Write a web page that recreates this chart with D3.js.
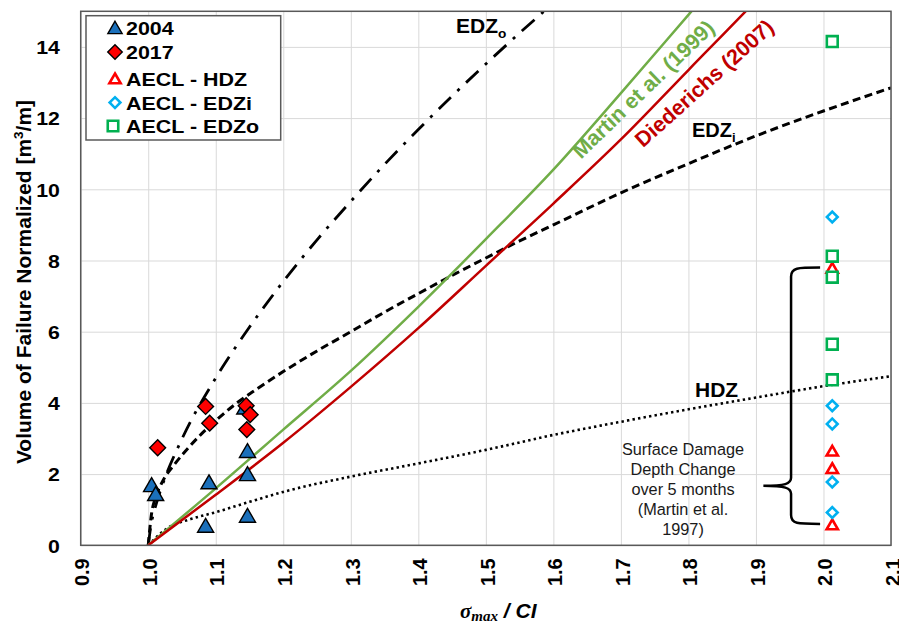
<!DOCTYPE html>
<html lang="en">
<head>
<meta charset="UTF-8">
<title>Volume of failure vs sigma max / CI</title>
<script src="https://d3js.org/d3.v7.min.js"></script>
<style>
  body { margin: 0; background: #fff; }
  text { font-family: "Liberation Sans", Arial, sans-serif; }
</style>
</head>
<body>
<svg id="chart" width="899" height="624"></svg>
<script>
// ---- data ----
const xTicks = [0.9, 1.0, 1.1, 1.2, 1.3, 1.4, 1.5, 1.6, 1.7, 1.8, 1.9, 2.0, 2.1];
const yTicks = [0, 2, 4, 6, 8, 10, 12, 14];

// field measurements [sigma_max/CI, volume]
const field2004 = [[1.005, 1.68], [1.011, 1.43], [1.085, 0.54], [1.090, 1.76],
                   [1.143, 3.86], [1.147, 2.64], [1.147, 1.99], [1.147, 0.82]];
const field2017 = [[1.014, 2.74], [1.085, 3.90], [1.091, 3.43],
                   [1.145, 3.92], [1.151, 3.67], [1.146, 3.25]];

// AECL values at sigma_max/CI ~ 2.0
const aeclX = 2.013;
const aeclHDZ = [7.78, 2.64, 2.15, 0.57];
const aeclEDZi = [9.22, 3.92, 3.41, 1.78, 0.92];
const aeclEDZo = [14.15, 8.12, 7.53, 5.65, 4.65];

// curves
const martinX = [1.0, 1.1, 1.2, 1.3, 1.4, 1.5, 1.6, 1.7, 1.8, 1.85];
const martinY = [0, 1.6, 3.25, 4.9, 6.7, 8.6, 10.55, 12.7, 14.9, 16.0];
const diedX = [1.0, 1.1, 1.2, 1.3, 1.4, 1.5, 1.6, 1.7, 1.8, 1.9, 1.95];
const diedY = [0, 1.42, 2.88, 4.45, 6.1, 7.85, 9.6, 11.4, 13.35, 15.3, 16.3];
const edzoX = [1.0, 1.005, 1.01, 1.02, 1.05, 1.1, 1.15, 1.2, 1.25, 1.3, 1.35, 1.4, 1.45, 1.5, 1.55, 1.6];
const edzoY = [0, 0.66, 1.04, 1.64, 2.99, 4.70, 6.13, 7.41, 8.58, 9.66, 10.70, 11.68, 12.62, 13.52, 14.39, 15.23];
const edziX = [1.0, 1.005, 1.01, 1.02, 1.04, 1.06, 1.08, 1.1, 1.13, 1.16, 1.2, 1.25, 1.3, 1.35, 1.4, 1.45, 1.5, 1.55, 1.6, 1.7, 1.8, 1.9, 2.0, 2.1];
const edziY = [0, 0.9, 1.3, 1.75, 2.3, 2.75, 3.15, 3.5, 3.98, 4.38, 4.88, 5.46, 6.0, 6.55, 7.07, 7.58, 8.07, 8.55, 9.0, 9.9, 10.72, 11.5, 12.2, 12.85];
const hdzX = [1.0, 1.03, 1.06, 1.1, 1.15, 1.2, 1.3, 1.4, 1.5, 1.6, 1.7, 1.8, 1.9, 2.0, 2.1];
const hdzY = [0, 0.5, 0.72, 0.93, 1.22, 1.5, 1.93, 2.3, 2.68, 3.1, 3.47, 3.82, 4.15, 4.47, 4.75];

const legendLabels = ["2004", "2017", "AECL - HDZ", "AECL - EDZi", "AECL - EDZo"];
const noteLines = ["Surface Damage", "Depth Change", "over 5 months", "(Martin et al.", "1997)"];

// ---- chart ----
const svg = d3.select("#chart");
const pLeft = 80.7, pRight = 891, pTop = 11.3, pBottom = 545.3;
const x = d3.scaleLinear().domain([0.9, 2.1]).range([pLeft, pRight]);
const y = d3.scaleLinear().domain([0, 15]).range([pBottom, pTop]);

const blue = "#1b70bb", red = "#ff0000", cyan = "#00b0f0", green = "#00b050";
const martinCol = "#70ad47", diedCol = "#c00000";

svg.append("rect").attr("width", 899).attr("height", 624).attr("fill", "#fff");

// grid
svg.append("g")
  .attr("transform", `translate(0,${pBottom})`)
  .call(d3.axisBottom(x).tickValues(xTicks).tickSize(-(pBottom - pTop)).tickFormat(""))
  .call(g => g.select(".domain").remove())
  .selectAll("line").attr("stroke", "#d9d9d9").attr("stroke-width", 1);
svg.append("g")
  .attr("transform", `translate(${pLeft},0)`)
  .call(d3.axisLeft(y).tickValues(yTicks).tickSize(-(pRight - pLeft)).tickFormat(""))
  .call(g => g.select(".domain").remove())
  .selectAll("line").attr("stroke", "#d9d9d9").attr("stroke-width", 1);

// tick labels
const yAx = svg.append("g")
  .attr("transform", `translate(${pLeft},0)`)
  .call(d3.axisLeft(y).tickValues(yTicks).tickSize(0).tickPadding(0).tickFormat(d3.format("d")));
yAx.select(".domain").remove();
yAx.selectAll("text")
  .attr("x", -18.6).attr("dy", "0.36em")
  .attr("transform", "scale(1.12,1)")
  .attr("font-size", 19).attr("font-weight", "bold").attr("fill", "#000")
  .style("font-family", "'Liberation Sans', Arial, sans-serif");

const xAx = svg.append("g")
  .attr("transform", `translate(0,${pBottom})`)
  .call(d3.axisBottom(x).tickValues(xTicks).tickSize(0).tickFormat(d3.format(".1f")));
xAx.select(".domain").remove();
xAx.selectAll("text")
  .attr("x", 0).attr("y", 0).attr("dy", "0.36em")
  .attr("transform", "translate(1,13) rotate(-90)")
  .attr("text-anchor", "end")
  .attr("font-size", 20).attr("font-weight", "bold").attr("fill", "#000")
  .style("font-family", "'Liberation Sans', Arial, sans-serif");

// curves
svg.append("clipPath").attr("id", "plotclip")
  .append("rect").attr("x", pLeft).attr("y", pTop).attr("width", pRight - pLeft).attr("height", pBottom - pTop);
const curves = svg.append("g").attr("clip-path", "url(#plotclip)");
const line = d3.line().x(d => x(d[0])).y(d => y(d[1])).curve(d3.curveMonotoneX);
function addCurve(xs, ys, color, width, dash) {
  curves.append("path")
    .datum(xs.map((v, i) => [v, ys[i]]))
    .attr("d", line)
    .attr("fill", "none")
    .attr("stroke", color)
    .attr("stroke-width", width)
    .attr("stroke-dasharray", dash);
}
addCurve(hdzX, hdzY, "#000", 2.6, "2.4,3.2");
addCurve(edziX, edziY, "#000", 3, "8,4.5");
addCurve(edzoX, edzoY, "#000", 2.8, "17,9,3,9");
addCurve(martinX, martinY, martinCol, 2.5, null);
addCurve(diedX, diedY, diedCol, 2.5, null);

// plot border
svg.append("rect")
  .attr("x", pLeft).attr("y", pTop).attr("width", pRight - pLeft).attr("height", pBottom - pTop)
  .attr("fill", "none").attr("stroke", "#595959").attr("stroke-width", 1.5);

// brace annotation
const bx = x(1.952), be = x(1.995), bt = x(1.911);
const yTop = y(7.8), yBot = y(0.6), yTip = y(1.67);
svg.append("path")
  .attr("d", `M${be},${yTop} C${bx + 6},${yTop} ${bx},${yTop} ${bx},${yTop + 9}
              L${bx},${yTip - 8} C${bx},${yTip - 2} ${bx - 6},${yTip} ${bt},${yTip}
              C${bx - 6},${yTip} ${bx},${yTip + 2} ${bx},${yTip + 8}
              L${bx},${yBot - 9} C${bx},${yBot} ${bx + 6},${yBot} ${be},${yBot}`)
  .attr("fill", "none").attr("stroke", "#000").attr("stroke-width", 2.5);

svg.append("g").selectAll("text").data(noteLines).join("text")
  .attr("x", 683).attr("y", (d, i) => 455 + i * 20)
  .attr("text-anchor", "middle").attr("font-size", 16.3).attr("fill", "#1a1a1a")
  .text(d => d);

// markers
const tri = d3.symbol(d3.symbolTriangle);
const sq = d3.symbol(d3.symbolSquare);
const marks = svg.append("g");
marks.selectAll(".m2004").data(field2004).join("path")
  .attr("d", tri.size(112)())
  .attr("transform", d => `translate(${x(d[0])},${y(d[1]) + 1.5})`)
  .attr("fill", blue).attr("stroke", "#000").attr("stroke-width", 1.4);
marks.selectAll(".m2017").data(field2017).join("path")
  .attr("d", sq.size(125)())
  .attr("transform", d => `translate(${x(d[0])},${y(d[1])}) rotate(45)`)
  .attr("fill", red).attr("stroke", "#000").attr("stroke-width", 1.4);
marks.selectAll(".hdz").data(aeclHDZ).join("path")
  .attr("d", tri.size(55)())
  .attr("transform", d => `translate(${x(aeclX)},${y(d) + 1})`)
  .attr("fill", "#fff").attr("stroke", red).attr("stroke-width", 2.6);
marks.selectAll(".edzi").data(aeclEDZi).join("path")
  .attr("d", sq.size(58)())
  .attr("transform", d => `translate(${x(aeclX)},${y(d)}) rotate(45)`)
  .attr("fill", "#fff").attr("stroke", cyan).attr("stroke-width", 2.6);
marks.selectAll(".edzo").data(aeclEDZo).join("path")
  .attr("d", sq.size(118)())
  .attr("transform", d => `translate(${x(aeclX)},${y(d)})`)
  .attr("fill", "#fff").attr("stroke", green).attr("stroke-width", 2.6);

// curve labels
function zoneLabel(px, py, main, sub, size) {
  const t = svg.append("text").attr("x", px).attr("y", py)
    .attr("font-size", size).attr("font-weight", "bold").attr("fill", "#000");
  t.append("tspan").text(main);
  if (sub) t.append("tspan").attr("dy", 5).attr("font-size", size * 0.65).text(sub);
}
zoneLabel(456, 33.3, "EDZ", "o", 21);
zoneLabel(692, 137.3, "EDZ", "i", 20);
zoneLabel(695, 396.7, "HDZ", null, 21);

svg.append("text")
  .attr("transform", "translate(643,89) rotate(-44)")
  .attr("text-anchor", "middle").attr("dy", "0.36em")
  .attr("font-size", 21.5).attr("font-weight", "bold").attr("fill", martinCol)
  .text("Martin et al. (1999)");
svg.append("text")
  .attr("transform", "translate(704,83) rotate(-42)")
  .attr("text-anchor", "middle").attr("dy", "0.36em")
  .attr("font-size", 21.5).attr("font-weight", "bold").attr("fill", diedCol)
  .text("Diederichs (2007)");

// axis titles
const yTitle = svg.append("text")
  .attr("transform", "translate(31,282) rotate(-90)")
  .attr("text-anchor", "middle")
  .attr("font-size", 21).attr("font-weight", "bold").attr("fill", "#000");
yTitle.append("tspan").text("Volume of Failure Normalized [m");
yTitle.append("tspan").attr("font-size", 13.5).attr("dy", -8).text("3");
yTitle.append("tspan").attr("dy", 8).text("/m]");

const xTitle = svg.append("text")
  .attr("x", 460).attr("y", 617.5)
  .attr("font-size", 21).attr("font-weight", "bold").attr("font-style", "italic").attr("fill", "#000");
xTitle.append("tspan").style("font-family", "'Liberation Serif', 'Times New Roman', serif").text("σ");
xTitle.append("tspan").style("font-family", "'Liberation Serif', 'Times New Roman', serif")
  .attr("font-size", 15).attr("dy", 3.5).text("max");
xTitle.append("tspan").attr("dy", -3.5).text(" / CI");

// legend
const lg = svg.append("g");
lg.append("rect").attr("x", 86).attr("y", 15.7).attr("width", 194.7).attr("height", 124.3)
  .attr("fill", "#fff").attr("stroke", "#595959").attr("stroke-width", 1.5);
const rowY = [28, 52, 79, 102.6, 126];
const legendSyms = [
  {d: tri.size(88)(), fill: blue, stroke: "#000", w: 1.4, rot: 0, dy: 1.5},
  {d: sq.size(105)(), fill: red, stroke: "#000", w: 1.4, rot: 45, dy: 0},
  {d: tri.size(55)(), fill: "#fff", stroke: red, w: 2.6, rot: 0, dy: 1},
  {d: sq.size(58)(), fill: "#fff", stroke: cyan, w: 2.6, rot: 45, dy: 0},
  {d: sq.size(110)(), fill: "#fff", stroke: green, w: 2.6, rot: 0, dy: 0}
];
lg.selectAll(".sym").data(legendSyms).join("path")
  .attr("d", d => d.d)
  .attr("transform", (d, i) => `translate(${i === 4 ? 113 : 115},${rowY[i] + d.dy}) rotate(${d.rot})`)
  .attr("fill", d => d.fill).attr("stroke", d => d.stroke).attr("stroke-width", d => d.w);
lg.selectAll(".lbl").data(legendLabels).join("text")
  .attr("transform", (d, i) => `translate(126,${rowY[i] + 7}) scale(1.13,1)`)
  .attr("font-size", 19).attr("font-weight", "bold").attr("fill", "#000")
  .text(d => d);
</script>
</body>
</html>
